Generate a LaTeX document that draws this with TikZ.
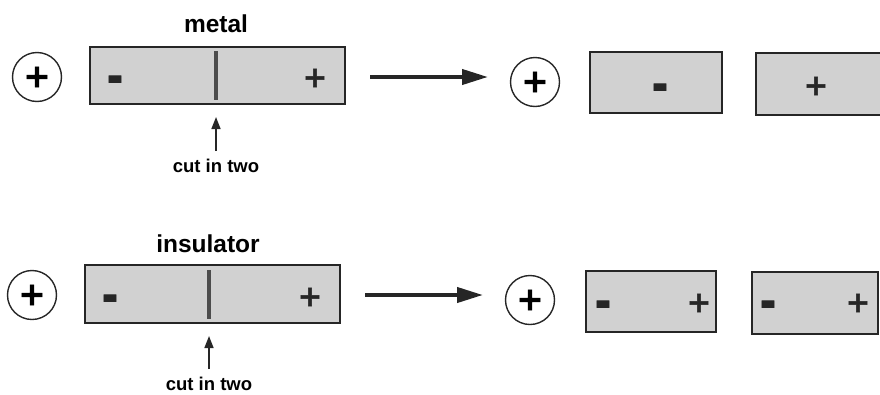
\documentclass[tikz,border=0pt]{standalone}
\usepackage{fontspec}
\setmainfont{Liberation Sans}
\newfontfamily\signfont[BoldFeatures={FakeBold=1.6}]{DejaVu Sans}
\usetikzlibrary{arrows.meta}
\newcommand{\minussign}{\scalebox{1.25}[1.5]{-}}
\begin{document}
\begin{tikzpicture}[x=1pt,y=-1pt,
  bar/.style={draw=black!85, line width=1.6pt, fill=black!18, rectangle, inner sep=0pt},
  ion/.style={circle, draw=black!85, line width=1.4pt, minimum size=49pt, inner sep=0pt, font=\signfont\fontsize{32}{32}\selectfont\bfseries},
  sign/.style={inner sep=0pt, text=black!85, font=\signfont\fontsize{29}{29}\selectfont\bfseries},
  msign/.style={inner sep=0pt, anchor=base, text=black!85, font=\signfont\fontsize{32}{32}\selectfont\bfseries},
  title/.style={inner sep=0pt, font=\fontsize{24.5}{24.5}\selectfont\bfseries},
  small/.style={inner sep=0pt, font=\fontsize{18.5}{18.5}\selectfont\bfseries},
  cutline/.style={draw=black!70, line width=4pt},
  bigarrow/.style={draw=black!85, line width=4pt, -{Triangle[length=26pt,width=15pt]}},
  uparrow/.style={draw=black!85, line width=1.6pt, -{Triangle[length=12pt,width=9pt]}}]
\useasboundingbox (0,0) rectangle (880,394);
% ---------- top row: metal ----------
\node[ion] (c1) at (37,77) {+};
\node[bar, minimum width=255pt, minimum height=57pt] (b1) at (217.5,75.5) {};
\node[msign] (b1m) at (115,93) {\minussign};
\node[sign] (b1p) at (315,78) {+};
\coordinate (k1t) at (216,51);
\coordinate (k1b) at (216,100);
\draw[cutline] (k1t) -- (k1b);
\node[title] (t1) at (216,24) {metal};
\node[small] (u1) at (216,166) {cut in two};
\coordinate (a1s) at (216,151);
\coordinate (a1e) at (216,117);
\draw[uparrow] (a1s) -- (a1e);
\coordinate (r1s) at (370,77);
\coordinate (r1e) at (488,77);
\draw[bigarrow] (r1s) -- (r1e);
\node[ion] (c2) at (535,82) {+};
\node[bar, minimum width=132pt, minimum height=61pt] (bA) at (656,82.5) {};
\node[msign] (bAm) at (660,101) {\minussign};
\node[bar, minimum width=126pt, minimum height=62pt] (bB) at (819,84) {};
\node[sign] (bBp) at (816,86) {+};
% ---------- bottom row: insulator ----------
\node[ion] (c3) at (32,295) {+};
\node[bar, minimum width=255pt, minimum height=58pt] (b2) at (212.5,294) {};
\node[msign] (b2m) at (110,312) {\minussign};
\node[sign] (b2p) at (310,297) {+};
\coordinate (k2t) at (209,270);
\coordinate (k2b) at (209,319);
\draw[cutline] (k2t) -- (k2b);
\node[title] (t2) at (208,244) {insulator};
\node[small] (u2) at (209,384) {cut in two};
\coordinate (a2s) at (209,369);
\coordinate (a2e) at (209,336);
\draw[uparrow] (a2s) -- (a2e);
\coordinate (r2s) at (365,295);
\coordinate (r2e) at (483,295);
\draw[bigarrow] (r2s) -- (r2e);
\node[ion] (c4) at (530,300) {+};
\node[bar, minimum width=130pt, minimum height=61pt] (bC) at (651,301.5) {};
\node[msign] (bCm) at (603,318) {\minussign};
\node[sign] (bCp) at (699,303) {+};
\node[bar, minimum width=126pt, minimum height=62pt] (bD) at (815,303) {};
\node[msign] (bDm) at (768,318) {\minussign};
\node[sign] (bDp) at (858,303) {+};
\end{tikzpicture}
\end{document}
